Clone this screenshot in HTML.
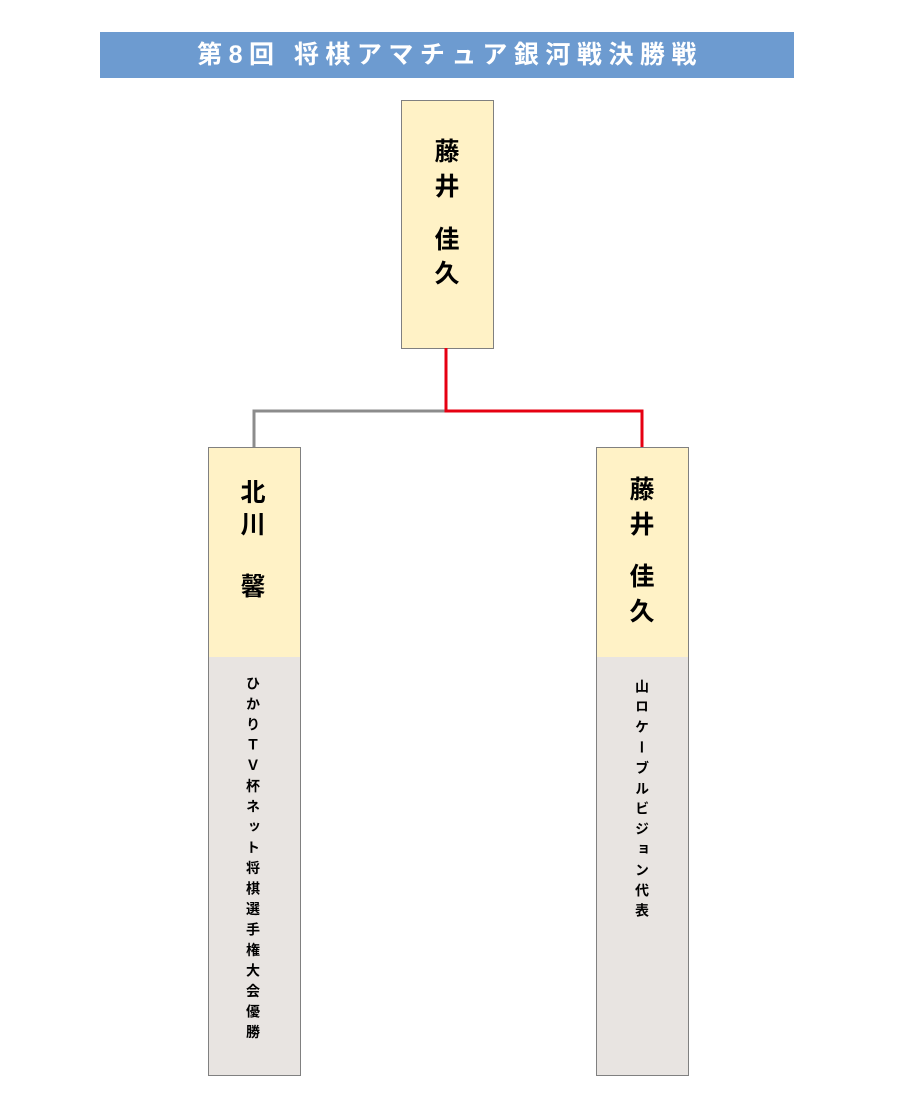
<!DOCTYPE html>
<html><head><meta charset="utf-8"><style>
body{margin:0;width:900px;height:1106px;background:#fff;position:relative;font-family:"Liberation Sans","Noto Sans CJK JP",sans-serif;overflow:hidden}
.a{position:absolute}
.bar{left:100px;top:32px;width:694px;height:46px;background:#6d9bd0;color:#fff;font-weight:bold;font-size:25px;letter-spacing:6.5px;text-align:center;line-height:46px;text-indent:6px}
.box{position:absolute;box-sizing:border-box;border:1.5px solid #808080;background:#fff2c6}
.gray{position:absolute;left:0;right:0;bottom:0;background:#e8e4e1}
.n{position:absolute;font-size:25px;font-weight:bold;width:40px;text-align:center;line-height:30px;margin-left:-20px;margin-top:-15px}
.v{position:absolute;writing-mode:vertical-rl;font-size:14px;font-weight:bold;line-height:20px;margin-left:-10px}
</style></head><body>
<div class="a bar">第8回 将棋アマチュア銀河戦決勝戦</div>

<div class="box" style="left:401px;top:100px;width:93px;height:249px"></div>
<div class="n" style="left:447px;top:152px">藤</div>
<div class="n" style="left:447px;top:187px">井</div>
<div class="n" style="left:447px;top:240px">佳</div>
<div class="n" style="left:447px;top:274px">久</div>

<svg class="a" style="left:0;top:0" width="900" height="1106">
<polyline points="445,411 254,411 254,447" fill="none" stroke="#8c8c8c" stroke-width="3"/>
<polyline points="446,348 446,411 642,411 642,447" fill="none" stroke="#e60012" stroke-width="3"/>
</svg>

<div class="box" style="left:208px;top:447px;width:93px;height:629px;overflow:hidden"><div class="gray" style="top:209px"></div></div>
<div class="n" style="left:253px;top:493px">北</div>
<div class="n" style="left:253px;top:525px">川</div>
<div class="n" style="left:253px;top:587px">馨</div>
<div class="v" style="left:253px;top:676px;letter-spacing:6.5px">ひかりＴＶ杯ネット将棋選手権大会優勝</div>

<div class="box" style="left:596px;top:447px;width:93px;height:629px;overflow:hidden"><div class="gray" style="top:209px"></div></div>
<div class="n" style="left:642px;top:490px">藤</div>
<div class="n" style="left:642px;top:525px">井</div>
<div class="n" style="left:642px;top:577px">佳</div>
<div class="n" style="left:642px;top:612px">久</div>
<div class="v" style="left:642px;top:679px;letter-spacing:6.4px">山ロケーブルビジョン代表</div>
</body></html>
